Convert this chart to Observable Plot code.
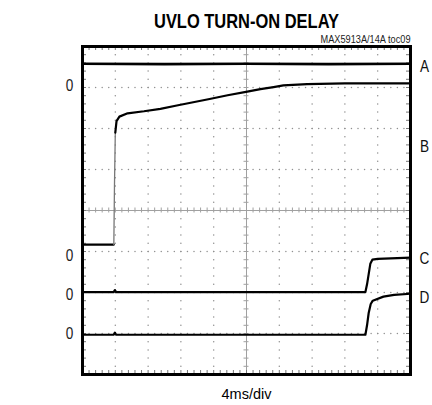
<!DOCTYPE html>
<html>
<head>
<meta charset="utf-8">
<script src="https://cdn.jsdelivr.net/npm/d3@7"></script>
<script src="https://cdn.jsdelivr.net/npm/@observablehq/plot@0.6"></script>
<style>
  html, body { margin: 0; padding: 0; background: white; }
</style>
</head>
<body>
<div id="chart"></div>
<script>
// Time in ms (4 ms/div, 10 divisions), level in scope divisions (8 divisions)
const aTime  = [0, 10, 20, 30, 40];
const aLevel = [7.58, 7.57, 7.58, 7.57, 7.58];

const bTime  = [0, 3.82, 3.9, 4.0, 4.15, 4.5, 5.5, 7.5, 9.5, 11.5, 13.5, 15.5, 17.7, 20.1, 21.7, 23.3, 24.5, 27.4, 32, 40];
const bLevel = [3.17, 3.17, 4.6, 5.9, 6.18, 6.29, 6.37, 6.42, 6.48, 6.56, 6.64, 6.72, 6.81, 6.90, 6.96, 7.01, 7.05, 7.08, 7.10, 7.10];

const cTime  = [0, 3.8, 3.95, 4.1, 34.5, 34.7, 34.9, 35.1, 35.35, 36, 40];
const cLevel = [2.01, 2.01, 2.06, 2.01, 2.01, 2.2, 2.45, 2.7, 2.80, 2.82, 2.85];

const dTime  = [0, 3.8, 3.95, 4.1, 34.5, 34.7, 34.9, 35.15, 35.4, 36.7, 38, 40];
const dLevel = [0.97, 0.97, 1.02, 0.97, 0.97, 1.2, 1.5, 1.72, 1.80, 1.90, 1.94, 1.97];

const channelNames  = ["A", "B", "C", "D"];
const channelLabelY = [7.51, 5.56, 2.83, 1.88];
const zeroLabelY    = [7.05, 2.89, 1.95, 1.0];

const title   = "UVLO TURN-ON DELAY";
const tocNote = "MAX5913A/14A toc09";
const xLabel  = "4ms/div";

const xMax = 40, yMax = 8, xDiv = 4, yDiv = 1, sub = 5;

const toRows = (t, v) => t.map((x, i) => ({t: x, v: v[i]}));
const A = toRows(aTime, aLevel);
const B = toRows(bTime, bLevel);
const C = toRows(cTime, cLevel);
const D = toRows(dTime, dLevel);

// graticule helpers
const xSubs = d3.range(0, xMax + 1e-9, xDiv / sub);
const ySubs = d3.range(0, yMax + 1e-9, yDiv / sub);
const xMajors = d3.range(xDiv, xMax - 1e-9, xDiv).filter(x => x !== xMax / 2);
const yMajors = d3.range(yDiv, yMax - 1e-9, yDiv).filter(y => y !== yMax / 2);
const gridDots = [];
for (const y of yMajors) for (const x of xSubs) gridDots.push({x, y});
for (const x of xMajors) for (const y of ySubs) gridDots.push({x, y});

const pxX = xMax / 328, pxY = yMax / 328;
const font = "'Liberation Sans', Arial, sans-serif";

const lineOpts = {x: "t", y: "v", stroke: "black", strokeWidth: 2.2, curve: "linear"};

const chart = Plot.plot({
  width: 432,
  height: 405,
  marginLeft: 82,
  marginRight: 22,
  marginTop: 46,
  marginBottom: 31,
  x: {domain: [0, xMax], axis: null},
  y: {domain: [0, yMax], axis: null},
  style: {fontFamily: font, background: "white", color: "black"},
  marks: [
    // dotted graticule
    Plot.dot(gridDots, {x: "x", y: "y", r: 0.75, fill: "#909090", stroke: null}),
    // center crosshair
    Plot.ruleX([xMax / 2], {stroke: "#a0a0a0", strokeWidth: 1}),
    Plot.ruleY([yMax / 2], {stroke: "#a0a0a0", strokeWidth: 1}),
    Plot.ruleX(xSubs, {x: d => d, y1: yMax / 2 - 2.5 * pxY, y2: yMax / 2 + 2.5 * pxY, stroke: "#a0a0a0"}),
    Plot.ruleY(ySubs, {y: d => d, x1: xMax / 2 - 2.5 * pxX, x2: xMax / 2 + 2.5 * pxX, stroke: "#a0a0a0"}),
    // edge ticks
    Plot.ruleX(xSubs, {x: d => d, y1: yMax, y2: yMax - 4 * pxY, stroke: "#777"}),
    Plot.ruleX(xSubs, {x: d => d, y1: 0, y2: 4 * pxY, stroke: "#777"}),
    Plot.ruleY(ySubs, {y: d => d, x1: 0, x2: 4 * pxX, stroke: "#777"}),
    Plot.ruleY(ySubs, {y: d => d, x1: xMax, x2: xMax - 4 * pxX, stroke: "#777"}),
    // traces
    Plot.line(A, {...lineOpts, strokeWidth: 2.6}),
    Plot.line(B.slice(0, 2), lineOpts),
    Plot.line(B.slice(1, 4), {...lineOpts, stroke: "#777", strokeWidth: 1.3}),
    Plot.line(B.slice(3), lineOpts),
    Plot.line(C, lineOpts),
    Plot.line(D, lineOpts),
    // frame
    Plot.frame({stroke: "black", strokeWidth: 3}),
    // labels
    Plot.text(channelNames, {x: xMax, y: (d, i) => channelLabelY[i], dx: 14, textAnchor: "middle", fontSize: 17, fill: "#111"}),
    Plot.text(zeroLabelY, {x: 0, y: d => d, text: () => "0", dx: -13, textAnchor: "middle", fontSize: 17, fill: "#222"}),
    Plot.text([title], {frameAnchor: "top", dy: -19, lineAnchor: "bottom", fontSize: 20, fontWeight: "bold", fill: "black"}),
    Plot.text([tocNote], {frameAnchor: "top-right", dy: -4, lineAnchor: "bottom", textAnchor: "end", fontSize: 10.5, fill: "#222"}),
    Plot.text([xLabel], {frameAnchor: "bottom", dy: 24, lineAnchor: "bottom", fontSize: 14, fill: "black"})
  ]
});
document.getElementById("chart").appendChild(chart);

// condensed look (Helvetica Condensed style): squeeze glyphs horizontally
const fixedWidths = new Map([[title, 185], [tocNote, 90], [xLabel, 50]]);
d3.select(chart).selectAll("text").each(function () {
  const s = this.textContent;
  const w = fixedWidths.has(s) ? fixedWidths.get(s) : this.getComputedTextLength() * 0.8;
  if (w > 0) {
    this.setAttribute("textLength", w);
    this.setAttribute("lengthAdjust", "spacingAndGlyphs");
  }
});
</script>
</body>
</html>
